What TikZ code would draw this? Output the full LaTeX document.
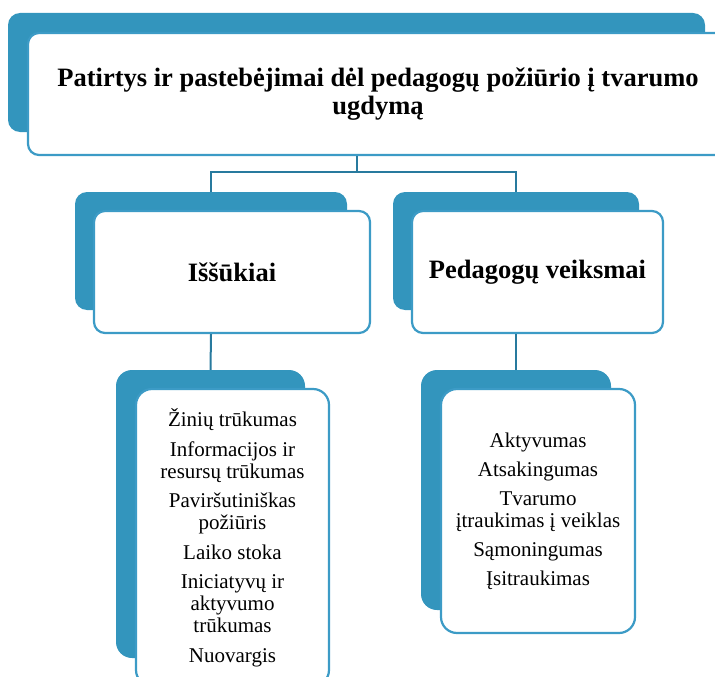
\documentclass[tikz,border=0pt]{standalone}
\usepackage{fontspec}
\setmainfont{Liberation Serif}
\definecolor{bluefill}{RGB}{51,149,189}
\definecolor{blueborder}{RGB}{60,155,198}
\definecolor{blueline}{RGB}{40,122,158}
\begin{document}
\begin{tikzpicture}[x=1pt,y=1pt,
  backbox/.style={fill=bluefill,draw=none,rounded corners=#1,inner sep=0pt},
  backbox/.default=12pt,
  frontbox/.style={fill=white,draw=blueborder,line width=2.2pt,rounded corners=#1,inner sep=0pt,align=center},
  frontbox/.default=11pt,
  headfont/.style={font=\fontsize{26.5}{27.5}\selectfont\bfseries},
  bodyfont/.style={font=\fontsize{21}{22}\selectfont},
  conn/.style={draw=blueline,line width=2pt}]
\useasboundingbox (0,0) rectangle (715,-677);
\path[clip] (0,0) rectangle (715,-677);
% top
\node[backbox, minimum width=697pt, minimum height=119pt] (topB) at (356.5,-72.5) {};
\node[frontbox, minimum width=700pt, minimum height=122pt, headfont] (topW) at (378,-94)
  {Patirtys ir pastebėjimai dėl pedagogų požiūrio į tvarumo\\ugdymą};
% middle
\node[backbox, minimum width=272pt, minimum height=118pt] (midLB) at (211,-251) {};
\node[frontbox, minimum width=276pt, minimum height=122pt, headfont] (midLW) at (232,-272) {Iššūkiai};
\node[backbox, minimum width=246pt, minimum height=118pt] (midRB) at (516,-251) {};
\node[frontbox, minimum width=251pt, minimum height=122pt, headfont] (midRW) at (537.5,-272) {Pedagogų veiksmai};
% lower
\node[backbox=16pt, minimum width=189pt, minimum height=288pt] (lowLB) at (210.5,-514) {};
\node[frontbox=16pt, minimum width=193pt, minimum height=297pt, bodyfont] (lowLW) at (232.5,-537.5)
  {Žinių trūkumas\\[7.5pt] Informacijos ir\\resursų trūkumas\\[7.5pt] Paviršutiniškas\\požiūris\\[7.5pt] Laiko stoka\\[7.5pt] Iniciatyvų ir\\aktyvumo\\trūkumas\\[7.5pt] Nuovargis};
\node[backbox=16pt, minimum width=190pt, minimum height=240pt] (lowRB) at (516,-490) {};
\node[frontbox=16pt, minimum width=194pt, minimum height=244pt, bodyfont] (lowRW) at (538,-511)
  {Aktyvumas\\[7pt] Atsakingumas\\[7pt] Tvarumo\\įtraukimas į veiklas\\[7pt] Sąmoningumas\\[7pt] Įsitraukimas};
% connectors
\coordinate (j) at (topB.center |- 0,-172);
\draw[conn] (topW.south -| j) -- (j);
\draw[conn] (j) -| (midLB.north);
\draw[conn] (j) -| (midRB.north);
\draw[conn] (midLW.south -| midLB.center) -- (lowLB.north);
\draw[conn] (midRW.south -| midRB.center) -- (lowRB.north);
\end{tikzpicture}
\end{document}
